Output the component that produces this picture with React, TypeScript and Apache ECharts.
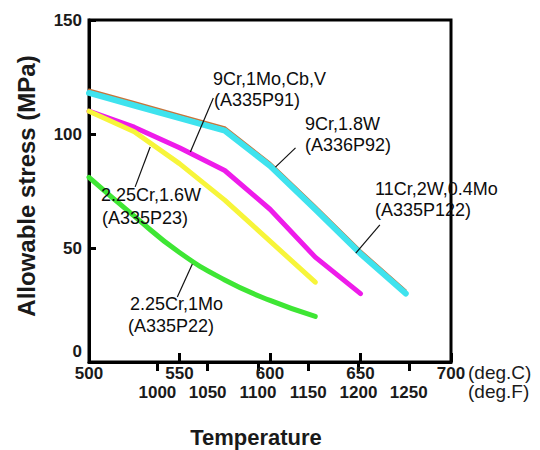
import React, { useEffect, useRef } from "react";
import * as echarts from "echarts";

// ---- data ----
const tempC = [500, 525, 550, 575, 600, 625, 650, 675];
const p122 = [119.5, 114, 108.5, 103, 87.5, 68.5, 49, 31.5];
const p92 = [118, 112.5, 107, 101.5, 86, 67, 47.5, 30];
const p91 = [110, 103, 94, 84, 67, 46, 30];
const p23 = [110, 101, 87, 71, 53, 35];
const p22 = [81, 64, 48, 36, 27, 20];
const yTicks = [0, 50, 100, 150];
const cTicks = [500, 550, 600, 650, 700];
const fTicks = [1000, 1050, 1100, 1150, 1200, 1250];
const unitNames = ["(deg.C)", "(deg.F)"];
const labelLines = [
  ["9Cr,1Mo,Cb,V", "(A335P91)"],
  ["9Cr,1.8W", "(A336P92)"],
  ["11Cr,2W,0.4Mo", "(A335P122)"],
  ["2.25Cr,1.6W", "(A335P23)"],
  ["2.25Cr,1Mo", "(A335P22)"],
];
// leader lines in data coordinates [x1,y1,x2,y2]
const leaders = [
  [568.7, 115.8, 556, 92.1],
  [614.1, 93.9, 603, 85.5],
  [660.7, 60.1, 647.4, 47.8],
  [525.5, 76.8, 533.8, 94.3],
  [548.8, 28.5, 557.1, 43],
];

// ---- layout (not data) ----
const labelPos = [
  [213, 79, 214, 100],
  [305, 124, 305, 145],
  [375, 189, 375, 210],
  [101, 195, 102, 218],
  [130, 304, 128, 326],
];
const unitPos = [
  [468, 372],
  [468, 391],
];

const FONT = "'Liberation Sans', Arial, sans-serif";

function pairs(xs: number[], ys: number[]) {
  return ys.map((y, i) => [xs[i], y]);
}
const c2f = (c: number) => (c * 9) / 5 + 32;

export default function App() {
  const ref = useRef<HTMLDivElement>(null);
  useEffect(() => {
    if (!ref.current) return;
    const chart = echarts.init(ref.current, null, { renderer: "svg" });
    const tickLabel = {
      fontFamily: FONT,
      fontSize: 17,
      fontWeight: "bold",
      color: "#1a1a1a",
      lineHeight: 15,
    };
    const lineSeries = (name: string, data: number[][], color: string, width: number, z: number, smooth = false) => ({
      name,
      type: "line",
      data,
      xAxisIndex: 0,
      yAxisIndex: 0,
      symbol: "none",
      smooth,
      z,
      lineStyle: { color, width, cap: "round", join: "round" },
    });
    const graphic: any[] = [];
    labelLines.forEach((pair, i) => {
      const p = labelPos[i];
      graphic.push({
        type: "text",
        x: p[0],
        y: p[1],
        z: 100,
        style: { text: pair[0], font: `18px ${FONT}`, fill: "#0d0d0d", verticalAlign: "middle" },
      });
      graphic.push({
        type: "text",
        x: p[2],
        y: p[3],
        z: 100,
        style: { text: pair[1], font: `18px ${FONT}`, fill: "#0d0d0d", verticalAlign: "middle" },
      });
    });
    unitNames.forEach((u, i) => {
      graphic.push({
        type: "text",
        x: unitPos[i][0],
        y: unitPos[i][1],
        style: { text: u, font: `19px ${FONT}`, fill: "#1a1a1a", verticalAlign: "middle" },
      });
    });
    graphic.push({
      type: "text",
      x: 26,
      y: 186,
      rotation: Math.PI / 2,
      style: {
        text: "Allowable stress (MPa)",
        font: `bold 24px ${FONT}`,
        fill: "#1a1a1a",
        align: "center",
        verticalAlign: "middle",
      },
    });
    graphic.push({
      type: "text",
      x: 256,
      y: 437,
      style: {
        text: "Temperature",
        font: `bold 22px ${FONT}`,
        fill: "#1a1a1a",
        align: "center",
        verticalAlign: "middle",
      },
    });

    chart.setOption({
      animation: false,
      backgroundColor: "#ffffff",
      grid: {
        left: 89,
        right: 89,
        top: 20,
        bottom: 88,
        show: true,
        borderColor: "#000",
        borderWidth: 3,
        backgroundColor: "transparent",
      },
      xAxis: [
        {
          type: "value",
          position: "bottom",
          min: cTicks[0],
          max: cTicks[cTicks.length - 1],
          interval: 50,
          splitLine: { show: false },
          axisLine: { show: true, lineStyle: { color: "#000", width: 3 } },
          axisTick: { show: true, inside: true, length: 9, lineStyle: { color: "#000", width: 3 } },
          axisLabel: { ...tickLabel, margin: 4, formatter: (v: number) => String(v) },
        },
        {
          type: "value",
          position: "bottom",
          min: c2f(cTicks[0]),
          max: c2f(cTicks[cTicks.length - 1]),
          splitLine: { show: false },
          axisLine: { show: false },
          axisTick: {
            show: true,
            inside: false,
            length: 9,
            customValues: fTicks,
            lineStyle: { color: "#000", width: 3 },
          },
          axisLabel: { ...tickLabel, margin: 23, customValues: fTicks, formatter: (v: number) => String(v) },
        },
      ],
      yAxis: {
        type: "value",
        min: yTicks[0],
        max: yTicks[yTicks.length - 1],
        interval: 50,
        splitLine: { show: false },
        axisLine: { show: true, lineStyle: { color: "#000", width: 3 } },
        axisTick: { show: true, inside: true, length: 7, lineStyle: { color: "#000", width: 3 } },
        axisLabel: {
          ...tickLabel,
          margin: 7,
          formatter: (v: number) => (v === 0 ? "{z|0}" : String(v)),
          rich: {
            z: {
              fontFamily: FONT,
              fontSize: 17,
              fontWeight: "bold",
              color: "#1a1a1a",
              padding: [0, 0, 22, 0],
            },
          },
        },
      },
      series: [
        lineSeries("11Cr,2W,0.4Mo (A335P122)", pairs(tempC, p122), "#c8743a", 2, 2),
        lineSeries("9Cr,1.8W (A336P92)", pairs(tempC, p92), "#3fe3ee", 6, 3),
        lineSeries("9Cr,1Mo,Cb,V (A335P91)", pairs(tempC, p91), "#ee1cea", 5, 2),
        lineSeries("2.25Cr,1.6W (A335P23)", pairs(tempC, p23), "#f7f53a", 5, 3),
        {
          ...lineSeries("2.25Cr,1Mo (A335P22)", pairs(tempC, p22), "#3ee634", 5, 3, true),
          markLine: {
            silent: true,
            symbol: "none",
            label: { show: false },
            lineStyle: { color: "#111", width: 1.2, type: "solid" },
            data: leaders.map((l) => [{ coord: [l[0], l[1]] }, { coord: [l[2], l[3]] }]),
          },
        },
      ],
      graphic,
    });
    return () => chart.dispose();
  }, []);
  return (
    <div
      ref={ref}
      style={{ position: "fixed", left: 0, top: 0, width: 540, height: 450, background: "#fff" }}
    />
  );
}
